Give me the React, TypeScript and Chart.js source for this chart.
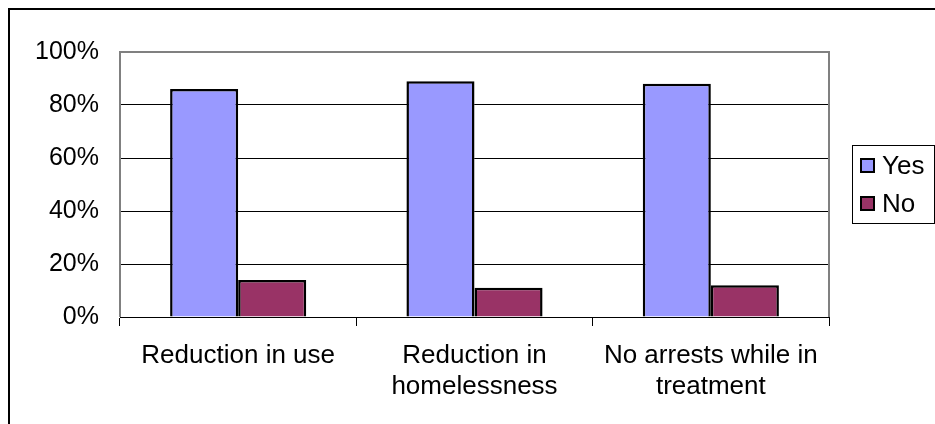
import React, { useEffect, useRef } from "react";
import { Chart, registerables } from "chart.js";

Chart.register(...registerables);

const categories: (string | string[])[] = [
  "Reduction in use",
  ["Reduction in", "homelessness"],
  ["No arrests while in", "treatment"],
];
const yesValues = [86, 89, 88];
const noValues = [14, 11, 12];
const seriesNames = ["Yes", "No"];
const seriesColors = ["#9999FF", "#993366"];
const yTicks = [0, 20, 40, 60, 80, 100];

const FONT = "'Liberation Sans', Arial, sans-serif";

// Outer frame, plot-area outline and the boxed legend on the right.
const framePlugin = {
  id: "frame",
  afterDraw(chart: any) {
    const { ctx, chartArea } = chart;
    ctx.save();
    // outer frame (only top and left edges fall inside the canvas)
    ctx.strokeStyle = "#000";
    ctx.lineWidth = 2;
    ctx.beginPath();
    ctx.moveTo(9, chart.height + 5);
    ctx.lineTo(9, 9);
    ctx.lineTo(chart.width + 5, 9);
    ctx.stroke();

    // plot area outline: gray top, left and right edges
    ctx.strokeStyle = "#808080";
    ctx.lineWidth = 2;
    ctx.beginPath();
    ctx.moveTo(chartArea.left, chartArea.bottom);
    ctx.lineTo(chartArea.left, chartArea.top);
    ctx.lineTo(chartArea.right, chartArea.top);
    ctx.lineTo(chartArea.right, chartArea.bottom);
    ctx.stroke();

    // legend box
    const lx = 852.5, ly = 145.5, lw = 82, lh = 78;
    ctx.strokeStyle = "#000";
    ctx.lineWidth = 1;
    ctx.strokeRect(lx, ly, lw, lh);
    const rows = [166, 204];
    chart.data.datasets.forEach((ds: any, i: number) => {
      const cy = rows[i];
      ctx.fillStyle = ds.backgroundColor;
      ctx.fillRect(861, cy - 7, 13, 13);
      ctx.strokeStyle = "#000";
      ctx.lineWidth = 2;
      ctx.strokeRect(861, cy - 7, 13, 13);
      ctx.fillStyle = "#000";
      ctx.font = `26px ${FONT}`;
      ctx.textBaseline = "middle";
      ctx.textAlign = "left";
      ctx.fillText(ds.label, 882, cy + 1);
    });
    ctx.restore();
  },
};

export default function App() {
  const canvasRef = useRef<HTMLCanvasElement | null>(null);

  useEffect(() => {
    document.body.style.margin = "0";
    const canvas = canvasRef.current;
    if (!canvas) return;
    const chart = new Chart(canvas, {
      type: "bar",
      data: {
        labels: categories,
        datasets: [
          {
            label: seriesNames[0],
            data: yesValues,
            backgroundColor: seriesColors[0],
            borderColor: "#000",
            borderWidth: 2.5,
          },
          {
            label: seriesNames[1],
            data: noValues,
            backgroundColor: seriesColors[1],
            borderColor: "#000",
            borderWidth: 2.5,
          },
        ],
      },
      options: {
        animation: false,
        responsive: false,
        devicePixelRatio: 1,
        layout: { padding: { left: 0, top: 52, right: 106, bottom: 0 } },
        datasets: {
          bar: { categoryPercentage: 0.576, barPercentage: 1 },
        },
        plugins: {
          legend: { display: false },
          tooltip: { enabled: false },
        },
        scales: {
          x: {
            grid: {
              offset: true,
              drawOnChartArea: false,
              drawTicks: true,
              tickLength: 9,
              color: "#000",
              lineWidth: 1,
            },
            border: { display: true, color: "#000", width: 1 },
            ticks: {
              color: "#000",
              font: { family: FONT, size: 26, lineHeight: 1.2 },
              padding: 14,
              maxRotation: 0,
              autoSkip: false,
            },
            afterFit(scale: any) {
              scale.height = 107;
            },
          },
          y: {
            min: 0,
            max: 100,
            afterBuildTicks(scale: any) {
              scale.ticks = yTicks.map((v) => ({ value: v }));
            },
            grid: {
              drawTicks: false,
              color: (c: any) => (c.tick && c.tick.value === 100 ? "rgba(0,0,0,0)" : "#000"),
              lineWidth: 1,
            },
            border: { display: false },
            ticks: {
              color: "#000",
              font: { family: FONT, size: 25 },
              padding: 21,
              callback: (v: any) => `${v}%`,
            },
            afterFit(scale: any) {
              scale.width = 120;
            },
          },
        },
      },
      plugins: [framePlugin],
    });
    return () => chart.destroy();
  }, []);

  return <canvas ref={canvasRef} width={935} height={424} style={{ display: "block" }} />;
}
